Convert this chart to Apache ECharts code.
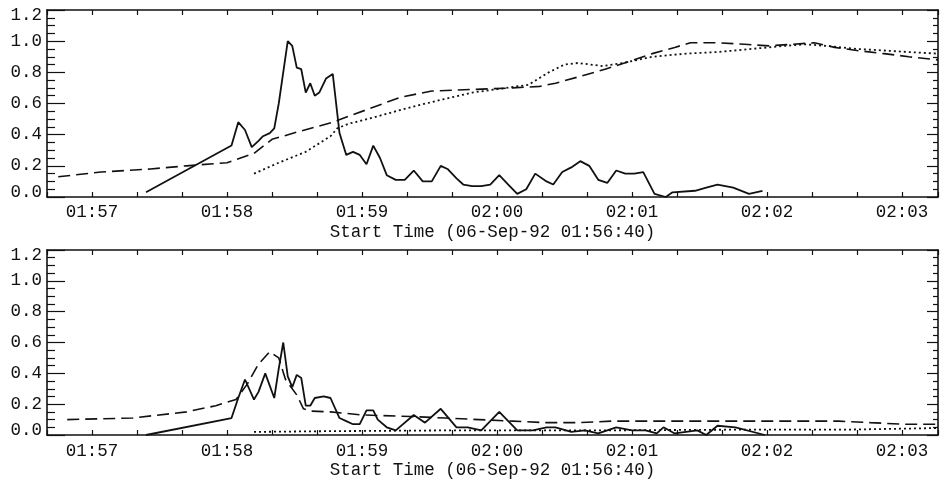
<!DOCTYPE html>
<html>
<head>
<meta charset="utf-8">
<script src="https://cdn.jsdelivr.net/npm/echarts@6/dist/echarts.min.js"></script>
<style>
html,body{margin:0;padding:0;background:#fff;}
#chart{width:941px;height:480px;}
</style>
</head>
<body>
<div id="chart"></div>
<script>
// Time axis: seconds after the start time 01:56:40
var startTime = '01:56:40';
var axisTitle = 'Start Time (06-Sep-92 01:56:40)';
var yTicks = [0.0, 0.2, 0.4, 0.6, 0.8, 1.0, 1.2];

// Upper panel
var topSolidT = [44,82,85,88,91,94,96,99,101,103,107,109,111,113,115,117,119,121,124,127,130,133,136,139,142,145,148,151,155,159,163,167,171,175,178,182,185,189,193,197,201,205,209,213,217,222,225,229,233,237,241,245,249,253,257,261,265,270,275,278,288,293,298,305,312,318];
var topSolidV = [0.03,0.33,0.48,0.43,0.32,0.36,0.39,0.41,0.44,0.60,1.00,0.97,0.83,0.82,0.67,0.73,0.65,0.67,0.76,0.79,0.41,0.27,0.29,0.27,0.21,0.33,0.25,0.14,0.11,0.11,0.17,0.10,0.10,0.20,0.18,0.12,0.08,0.07,0.07,0.08,0.14,0.08,0.02,0.05,0.15,0.10,0.08,0.16,0.19,0.23,0.20,0.11,0.09,0.17,0.15,0.15,0.16,0.02,0.00,0.03,0.04,0.06,0.08,0.06,0.02,0.04];
var topDashT = [5,24,46,62,80,92,100,112,127,142,157,171,189,207,219,226,236,248,261,269,279,286,298,310,321,331,341,350,360,372,383,396];
var topDashV = [0.13,0.16,0.18,0.20,0.22,0.28,0.37,0.42,0.48,0.56,0.64,0.68,0.69,0.70,0.71,0.73,0.77,0.82,0.88,0.92,0.96,0.99,0.99,0.98,0.97,0.98,0.99,0.96,0.94,0.92,0.90,0.88];
var topDotT = [92,103,115,126,129,134,145,160,174,189,204,214,223,230,236,247,256,269,284,298,313,328,337,346,360,372,383,396];
var topDotV = [0.15,0.22,0.29,0.39,0.44,0.47,0.51,0.57,0.62,0.67,0.70,0.72,0.80,0.85,0.86,0.84,0.86,0.90,0.92,0.93,0.95,0.97,0.98,0.97,0.95,0.94,0.93,0.92];

// Lower panel
var bottomSolidT = [44,82,85,88,92,94,97,101,103,105,107,109,111,113,115,117,119,123,126,130,133,136,139,142,145,147,151,155,163,168,175,182,187,193,201,209,216,222,226,233,239,245,253,260,266,271,274,279,289,293,298,306,319];
var bottomSolidV = [0.00,0.11,0.24,0.36,0.23,0.28,0.40,0.24,0.43,0.60,0.38,0.31,0.39,0.37,0.19,0.19,0.24,0.25,0.24,0.11,0.09,0.07,0.07,0.16,0.16,0.10,0.05,0.03,0.13,0.08,0.17,0.05,0.05,0.03,0.15,0.03,0.03,0.05,0.05,0.02,0.03,0.01,0.05,0.03,0.03,0.01,0.05,0.01,0.03,0.00,0.06,0.05,0.00];
var bottomDashT = [9,38,62,75,84,89,94,99,103,106,111,114,117,126,140,162,177,192,207,222,236,251,278,307,337,352,366,381,396];
var bottomDashV = [0.10,0.11,0.15,0.19,0.23,0.33,0.46,0.54,0.50,0.36,0.26,0.17,0.155,0.15,0.13,0.12,0.11,0.10,0.09,0.08,0.08,0.09,0.09,0.09,0.09,0.09,0.08,0.07,0.07];
var bottomDotT = [92,126,179,245,312,356,396];
var bottomDotV = [0.02,0.025,0.03,0.03,0.035,0.035,0.045];

var X_MAX = 396;
var FONT = 'Liberation Mono';
var FONT_SIZE = 17.5;
var INK = '#111';

function startSeconds() {
  var p = startTime.split(':').map(Number);
  return p[0] * 3600 + p[1] * 60 + p[2];
}
function pad(n) { return (n < 10 ? '0' : '') + n; }
function timeLabel(v) {
  var abs = startSeconds() + Math.round(v);
  if (abs % 60 !== 0 || v >= X_MAX) return '';
  var h = Math.floor(abs / 3600), m = Math.floor((abs % 3600) / 60);
  return pad(h) + ':' + pad(m);
}
function pairs(t, v) { return t.map(function (x, i) { return [x, v[i]]; }); }

function xAxisPair(gridIndex, labelMargin) {
  var base = {
    type: 'value', gridIndex: gridIndex, min: 0, max: X_MAX, interval: 20,
    splitLine: { show: false },
    axisLine: { show: true, onZero: false, lineStyle: { color: INK, width: 1.6 } },
    axisTick: { show: true, inside: true, length: 5, lineStyle: { color: INK, width: 1.2 } }
  };
  var bottom = Object.assign({}, base, {
    position: 'bottom',
    axisLabel: { show: true, margin: labelMargin, color: INK, fontFamily: FONT, fontSize: FONT_SIZE, formatter: timeLabel },
    name: axisTitle, nameLocation: 'middle', nameGap: 26,
    nameTextStyle: { color: INK, fontFamily: FONT, fontSize: FONT_SIZE }
  });
  var top = Object.assign({}, base, { position: 'top', axisLabel: { show: false } });
  return [bottom, top];
}
function yAxisPair(gridIndex) {
  var base = {
    type: 'value', gridIndex: gridIndex, min: yTicks[0], max: yTicks[yTicks.length - 1], interval: 0.2,
    splitLine: { show: false }, minorSplitLine: { show: false },
    axisLine: { show: true, onZero: false, lineStyle: { color: INK, width: 1.6 } }
  };
  var left = Object.assign({}, base, {
    position: 'left',
    axisTick: { show: true, inside: true, length: 18, lineStyle: { color: INK, width: 1.2 } },
    minorTick: { show: true, splitNumber: 4, length: 8, lineStyle: { color: INK, width: 1.2 } },
    axisLabel: {
      show: true, margin: 5, color: INK, fontFamily: FONT, fontSize: FONT_SIZE, lineHeight: 10,
      verticalAlignMinLabel: 'bottom', verticalAlignMaxLabel: 'top',
      formatter: function (v) { return v.toFixed(1); }
    }
  });
  var right = Object.assign({}, base, {
    position: 'right',
    axisTick: { show: true, inside: true, length: 11, lineStyle: { color: INK, width: 1.2 } },
    minorTick: { show: true, splitNumber: 4, length: 5, lineStyle: { color: INK, width: 1.2 } },
    axisLabel: { show: false }
  });
  return [left, right];
}
function line(name, data, xi, yi, type, width) {
  return {
    name: name, type: 'line', xAxisIndex: xi, yAxisIndex: yi, data: data,
    showSymbol: false, symbol: 'none', silent: true, animation: false,
    lineStyle: { color: INK, width: width, type: type }
  };
}

var chart = echarts.init(document.getElementById('chart'), null, { renderer: 'canvas' });
chart.setOption({
  backgroundColor: '#fff',
  animation: false,
  grid: [
    { left: 47, right: 1, top: 10, height: 187 },
    { left: 47, right: 1, top: 250, height: 187 }
  ],
  xAxis: xAxisPair(0, 6).concat(xAxisPair(1, 7)),
  yAxis: yAxisPair(0).concat(yAxisPair(1)),
  series: [
    line('top solid', pairs(topSolidT, topSolidV), 0, 0, 'solid', 1.8),
    line('top dashed', pairs(topDashT, topDashV), 0, 0, [12, 6], 1.6),
    line('top dotted', pairs(topDotT, topDotV), 0, 0, [2, 3], 1.8),
    line('bottom solid', pairs(bottomSolidT, bottomSolidV), 2, 2, 'solid', 1.8),
    line('bottom dashed', pairs(bottomDashT, bottomDashV), 2, 2, [12, 6], 1.6),
    line('bottom dotted', pairs(bottomDotT, bottomDotV), 2, 2, [2, 3], 1.8)
  ]
});
</script>
</body>
</html>
